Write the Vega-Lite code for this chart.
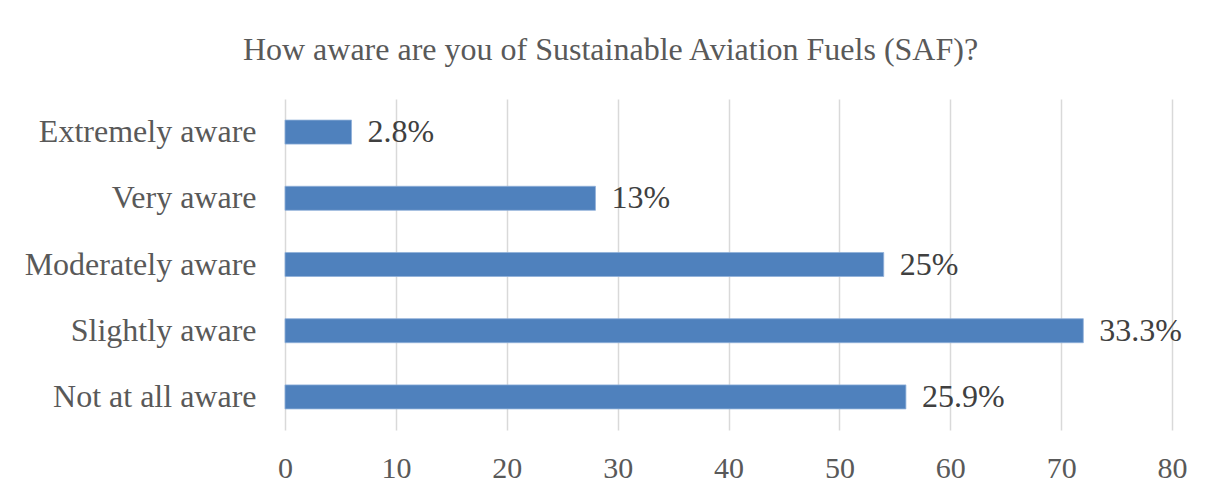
{
  "$schema": "https://vega.github.io/schema/vega-lite/v6.json",
  "autosize": "none",
  "width": 887,
  "height": 331,
  "padding": {"left": 285, "top": 99, "right": 40, "bottom": 63},
  "background": "white",
  "title": {
    "text": "How aware are you of Sustainable Aviation Fuels (SAF)?",
    "font": "Liberation Serif",
    "fontSize": 32,
    "fontWeight": "normal",
    "color": "#595959",
    "anchor": "middle",
    "frame": "group",
    "dx": -118,
    "offset": 32
  },
  "data": {
    "values": [
      {"awareness": "Extremely aware", "count": 6, "pct": "2.8%"},
      {"awareness": "Very aware", "count": 28, "pct": "13%"},
      {"awareness": "Moderately aware", "count": 54, "pct": "25%"},
      {"awareness": "Slightly aware", "count": 72, "pct": "33.3%"},
      {"awareness": "Not at all aware", "count": 56, "pct": "25.9%"}
    ]
  },
  "encoding": {
    "y": {
      "field": "awareness",
      "type": "nominal",
      "sort": null,
      "scale": {"paddingInner": 0.637, "paddingOuter": 0.3185},
      "axis": {
        "title": null,
        "domain": false,
        "ticks": false,
        "grid": false,
        "labelFont": "Liberation Serif",
        "labelFontSize": 32,
        "labelColor": "#595959",
        "labelPadding": 29,
        "labelLimit": 400,
        "labelBaseline": "middle"
      }
    },
    "x": {
      "field": "count",
      "type": "quantitative",
      "scale": {"domain": [0, 80], "nice": false},
      "axis": {
        "title": null,
        "values": [0, 10, 20, 30, 40, 50, 60, 70, 80],
        "domain": false,
        "ticks": false,
        "grid": true,
        "gridColor": "#D9D9D9",
        "gridWidth": 1.5,
        "labelFont": "Liberation Serif",
        "labelFontSize": 30,
        "labelColor": "#595959",
        "labelPadding": 23,
        "labelFlush": false
      }
    }
  },
  "layer": [
    {
      "mark": {"type": "bar", "color": "#4F81BD", "stroke": "#8FB0D9", "strokeWidth": 0.8}
    },
    {
      "mark": {
        "type": "text",
        "align": "left",
        "baseline": "middle",
        "dx": 16,
        "font": "Liberation Serif",
        "fontSize": 32,
        "color": "#404040"
      },
      "encoding": {"text": {"field": "pct", "type": "nominal"}}
    }
  ],
  "config": {"view": {"stroke": null}}
}
